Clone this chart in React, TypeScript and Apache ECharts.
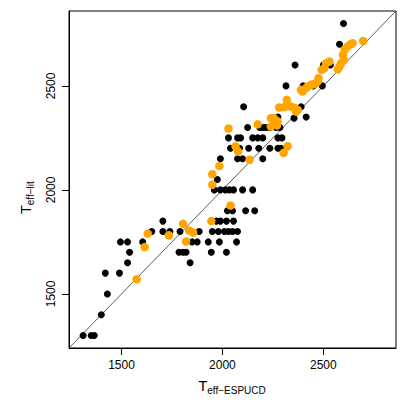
import React, { useEffect, useRef } from "react";
import * as echarts from "echarts";

const axisMin = 1240;
const axisMax = 2860;
const xTicks = [1500, 2000, 2500];
const yTicks = [1500, 2000, 2500];
const xTitleMain = "T";
const xTitleSub = "eff\u2212ESPUCD";
const yTitleMain = "T";
const yTitleSub = "eff\u2212lit";

const blackPoints: [number, number][] = [
  [1310, 1300], [1350, 1300], [1365, 1300],
  [1400, 1400], [1430, 1500], [1420, 1600], [1490, 1600],
  [1530, 1650], [1840, 1650],
  [1540, 1700], [1785, 1700], [1805, 1700], [1820, 1700], [1945, 1700], [2020, 1700],
  [1495, 1750], [1530, 1750], [1605, 1750], [1850, 1750], [1875, 1750], [1930, 1750], [1985, 1750], [2070, 1750],
  [1650, 1800], [1705, 1800], [1740, 1800], [1790, 1800], [1885, 1800], [1950, 1800], [1980, 1800], [2010, 1800], [2030, 1800], [2050, 1800], [2075, 1800],
  [1705, 1850], [1970, 1850], [1990, 1850], [2020, 1850], [2055, 1850],
  [2025, 1900], [2050, 1900], [2115, 1900], [2160, 1900],
  [1960, 2000], [1990, 2000], [2015, 2000], [2035, 2000], [2055, 2000], [2100, 2000], [2150, 2000],
  [1975, 2050],
  [1990, 2150], [2075, 2150], [2100, 2150], [2200, 2150],
  [2040, 2200], [2085, 2200], [2130, 2200], [2180, 2200], [2235, 2200], [2275, 2200], [2290, 2200],
  [2030, 2250], [2075, 2250], [2090, 2250], [2150, 2250], [2175, 2250], [2200, 2250], [2275, 2250], [2295, 2250],
  [2125, 2300], [2185, 2300], [2200, 2300], [2215, 2300], [2235, 2300], [2265, 2300], [2285, 2300],
  [2275, 2350], [2355, 2345], [2415, 2350],
  [2105, 2400], [2390, 2400],
  [2315, 2500], [2400, 2500], [2450, 2500], [2495, 2500],
  [2360, 2600], [2500, 2600], [2535, 2600],
  [2580, 2700], [2600, 2800],
];

const orangePoints: [number, number][] = [
  [1575, 1570], [1615, 1725], [1630, 1790], [1735, 1782], [1805, 1837], [1835, 1805], [1855, 1795], [1820, 1752], [1945, 1850],
  [2040, 1925], [1950, 2025], [1950, 2075], [1985, 2115], [2135, 2145], [2078, 2185], [2065, 2210], [2303, 2178], [2323, 2210],
  [2030, 2295], [2175, 2315], [2240, 2305], [2255, 2315], [2270, 2310], [2240, 2345], [2255, 2345], [2273, 2330],
  [2281, 2396], [2306, 2398], [2339, 2401], [2356, 2395], [2365, 2376], [2373, 2385], [2319, 2433],
  [2389, 2481], [2397, 2473], [2414, 2489], [2422, 2497], [2439, 2505], [2450, 2508], [2464, 2513], [2472, 2521], [2476, 2537],
  [2492, 2577], [2505, 2585], [2514, 2609], [2530, 2617],
  [2572, 2580], [2580, 2593], [2588, 2609], [2602, 2625], [2597, 2649], [2605, 2673], [2619, 2689], [2635, 2700], [2645, 2705],
  [2697, 2716],
];

const FONT = "'Liberation Sans', Arial, Helvetica, sans-serif";

export default function App() {
  const ref = useRef<HTMLDivElement>(null);
  useEffect(() => {
    if (!ref.current) return;
    const chart = echarts.init(ref.current, null, { renderer: "svg" });
    const axisCommon = {
      type: "value" as const,
      min: axisMin,
      max: axisMax,
      splitLine: { show: false },
      axisLine: { show: true, onZero: false, lineStyle: { color: "#000", width: 1 } },
      axisTick: { show: true, inside: false, length: 7, lineStyle: { color: "#000" } },
    };
    const fmt = (v: number) => String(v);
    chart.setOption({
      animation: false,
      backgroundColor: "#fff",
      grid: {
        left: 69,
        right: 11,
        top: 11,
        bottom: 59,
        show: true,
        borderColor: "#000",
        borderWidth: 1,
        backgroundColor: "transparent",
      },
      xAxis: {
        ...axisCommon,
        axisTick: { ...axisCommon.axisTick, customValues: xTicks },
        axisLabel: {
          customValues: xTicks,
          formatter: fmt,
          margin: 11,
          fontSize: 12,
          color: "#000",
          fontFamily: FONT,
        },
      },
      yAxis: {
        ...axisCommon,
        axisTick: { ...axisCommon.axisTick, customValues: yTicks },
        axisLabel: {
          customValues: yTicks,
          formatter: fmt,
          rotate: 90,
          margin: 12,
          fontSize: 12,
          color: "#000",
          fontFamily: FONT,
        },
      },
      graphic: [
        {
          type: "group",
          x: 198.5,
          y: 386,
          children: [
            { type: "text", x: 0, y: 0, style: { text: xTitleMain, fontSize: 14.4, fontFamily: FONT, fill: "#000", align: "left", verticalAlign: "middle" } },
            { type: "text", x: 8.8, y: 4.6, style: { text: xTitleSub, fontSize: 10, fontFamily: FONT, fill: "#000", align: "left", verticalAlign: "middle" } },
          ],
        },
        {
          type: "group",
          x: 25.5,
          y: 214,
          rotation: Math.PI / 2,
          children: [
            { type: "text", x: 0, y: 0, style: { text: yTitleMain, fontSize: 14.4, fontFamily: FONT, fill: "#000", align: "left", verticalAlign: "middle" } },
            { type: "text", x: 8.8, y: 4.6, style: { text: yTitleSub, fontSize: 10, fontFamily: FONT, fill: "#000", align: "left", verticalAlign: "middle" } },
          ],
        },
      ],
      series: [
        {
          type: "line",
          data: [[axisMin, axisMin], [axisMax, axisMax]],
          symbol: "none",
          lineStyle: { color: "#333", width: 0.8 },
          silent: true,
          z: 1,
        },
        {
          type: "scatter",
          data: blackPoints,
          symbol: "circle",
          symbolSize: 7,
          itemStyle: { color: "#000", opacity: 1 },
          z: 2,
        },
        {
          type: "scatter",
          data: orangePoints,
          symbol: "circle",
          symbolSize: 8.5,
          itemStyle: { color: "#FFA500", opacity: 1 },
          z: 3,
        },
      ],
    });
    return () => chart.dispose();
  }, []);
  return (
    <div
      ref={ref}
      style={{ position: "fixed", left: 0, top: 0, width: 407, height: 407 }}
    />
  );
}
